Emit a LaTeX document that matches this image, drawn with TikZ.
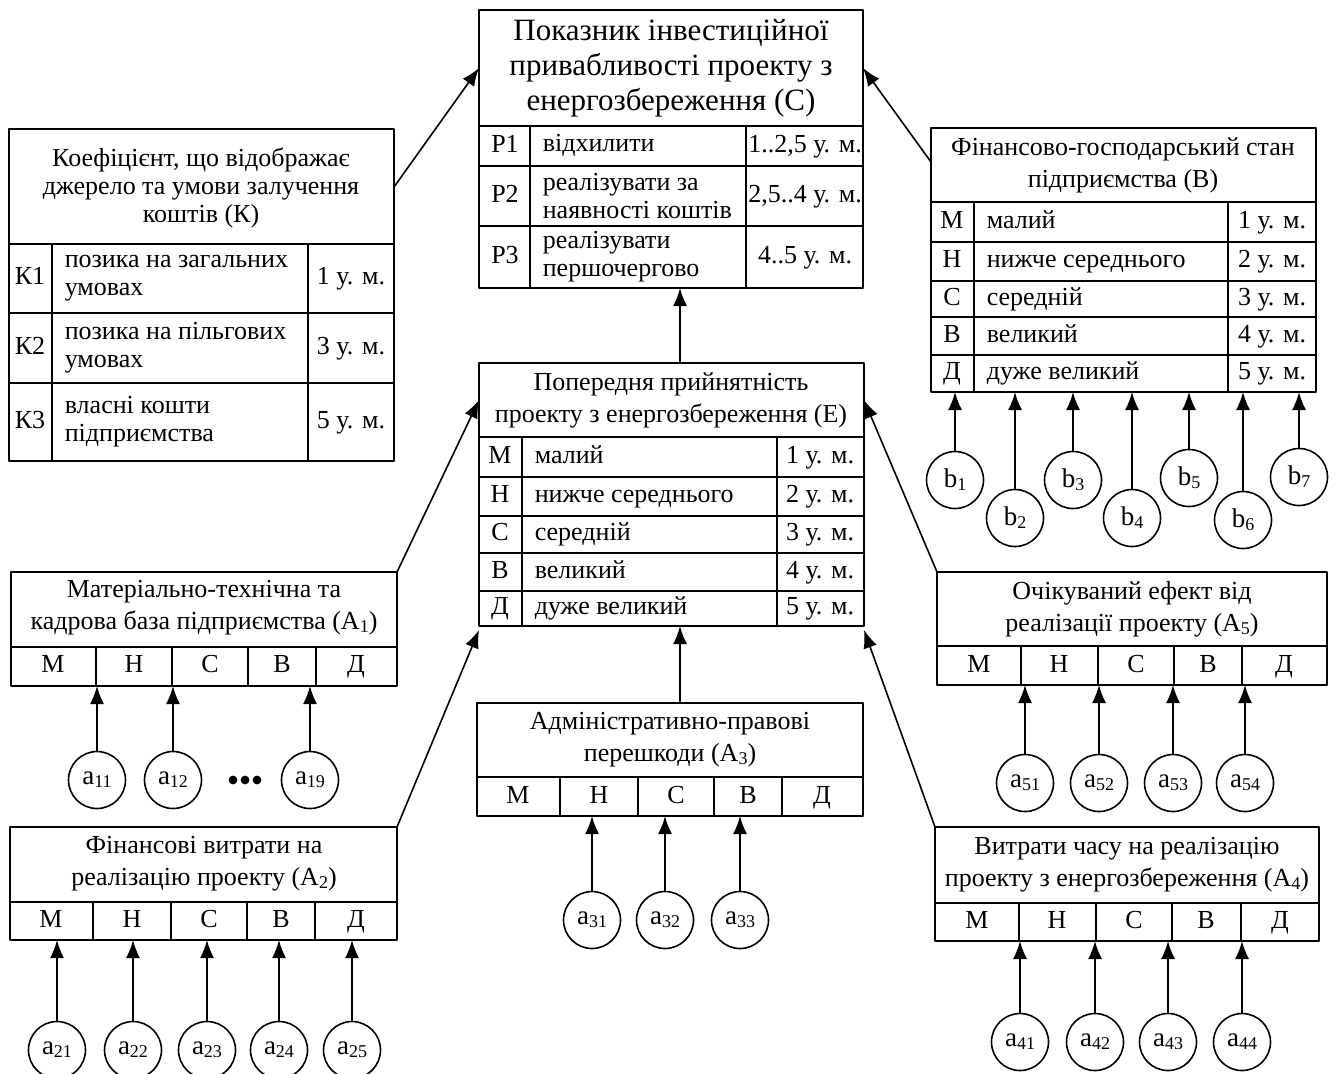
\documentclass[tikz,border=0pt]{standalone}
\usepackage{fontspec}
\setmainfont{Liberation Serif}
\usetikzlibrary{arrows.meta}
\newcommand\idx[1]{\raisebox{-0.25ex}{\fontsize{9}{9}\selectfont #1}}
\tikzset{
  big/.style={inner sep=0pt, align=center, font=\fontsize{15.5}{17.5}\selectfont},
  ttl/.style={inner sep=0pt, align=center, font=\fontsize{13}{16}\selectfont},
  mcell/.style={inner sep=0pt, align=center, font=\fontsize{13}{14}\selectfont},
  cell/.style={mcell, text height=9pt, text depth=3pt},
  lcell/.style={mcell, anchor=west, align=left},
  circ/.style={draw, circle, minimum size=28.5pt, inner sep=0pt, font=\fontsize{13.5}{14}\selectfont},
}
\begin{document}
\begin{tikzpicture}[x=0.5pt, y=-0.5pt, >={Latex[length=9pt,width=7pt]}, line width=0.8pt, line join=round]
\useasboundingbox (0,0) rectangle (1336,1073);
% C
\draw (479,10) rectangle (863,288) (479,126)--(863,126) (530,126)--(530,288) (746,126)--(746,288)
  (479,166)--(863,166) (479,226)--(863,226);
\node[big] (C) at (671,68) {Показник інвестиційної\\привабливості проекту з\\енергозбереження (С)};
\foreach \p/\t/\v/\y [count=\i] in {Р1/{\strut відхилити}/{1..2,5}/146, Р2/{реалізувати за\\наявності коштів}/{2,5..4}/196, Р3/{реалізувати\\першочергово}/{4..5}/257}{
  \node[cell] (cp\i) at (505,\y) {\p};
  \node[lcell] (ct\i) at (542,\y) {\t};
  \node[cell] (cv\i) at (805,\y) {\v{} у. м.};
}
% K
\draw (9,129) rectangle (394,461) (9,244)--(394,244) (52,244)--(52,461) (308,244)--(308,461)
  (9,313)--(394,313) (9,383)--(394,383);
\node[mcell] (K) at (201,188) {Коефіцієнт, що відображає\\джерело та умови залучення\\коштів (К)};
\foreach \p/\t/\v/\y [count=\i] in {К1/{позика на загальних\\умовах}/1/278, К2/{позика на пільгових\\умовах}/3/348, К3/{власні кошти\\підприємства}/5/422}{
  \node[cell] (kp\i) at (30,\y) {\p};
  \node[lcell] (kt\i) at (64,\y) {\t};
  \node[cell] (kv\i) at (351,\y) {\v{} у. м.};
}
% B
\draw (931,128) rectangle (1316,392) (931,202)--(1316,202) (974,202)--(974,392) (1228,202)--(1228,392);
\foreach \y in {242,281,317,355} \draw (931,\y)--(1316,\y);
\node[ttl] (B) at (1123,165) {Фінансово-господарський стан\\підприємства (В)};
\foreach \p/\t/\v/\y [count=\i] in {М/малий/1/222, Н/нижче середнього/2/261, С/середній/3/299, В/великий/4/336, Д/дуже великий/5/373}{
  \node[cell] (bp\i) at (952,\y) {\p};
  \node[cell, anchor=west] (bt\i) at (986,\y) {\t};
  \node[cell] (bv\i) at (1272,\y) {\v{} у. м.};
}
% E
\draw (479,363) rectangle (864,626) (479,437)--(864,437) (522,437)--(522,626) (777,437)--(777,626);
\foreach \y in {477,516,553,591} \draw (479,\y)--(864,\y);
\node[ttl] (E) at (671,400) {Попередня прийнятність\\проекту з енергозбереження (Е)};
\foreach \p/\t/\v/\y [count=\i] in {М/малий/1/457, Н/нижче середнього/2/496, С/середній/3/534, В/великий/4/572, Д/дуже великий/5/608}{
  \node[cell] (ep\i) at (500,\y) {\p};
  \node[cell, anchor=west] (et\i) at (534,\y) {\t};
  \node[cell] (ev\i) at (820,\y) {\v{} у. м.};
}
% A1
\draw (11,572) rectangle (397,686) (11,647)--(397,647);
\foreach \x in {96,172,248,316} \draw (\x,647)--(\x,686);
\node[ttl] (A1) at (204,608) {Матеріально-технічна та\\кадрова база підприємства (А\idx{1})};
\foreach \l/\x [count=\i] in {М/53,Н/134,С/210,В/282,Д/356} \node[cell] (a1l\i) at (\x,666) {\l};
% A2
\draw (10,827) rectangle (397,940) (10,902)--(397,902);
\foreach \x in {93,171,247,315} \draw (\x,902)--(\x,940);
\node[ttl] (A2) at (204,864) {Фінансові витрати на\\реалізацію проекту (А\idx{2})};
\foreach \l/\x [count=\i] in {М/51,Н/132,С/209,В/281,Д/356} \node[cell] (a2l\i) at (\x,921) {\l};
% A3
\draw (477,703) rectangle (863,816) (477,777)--(863,777);
\foreach \x in {560,638,714,782} \draw (\x,777)--(\x,816);
\node[ttl] (A3) at (670,740) {Адміністративно-правові\\перешкоди (А\idx{3})};
\foreach \l/\x [count=\i] in {М/518,Н/599,С/676,В/748,Д/822} \node[cell] (a3l\i) at (\x,797) {\l};
% A4
\draw (935,827) rectangle (1319,941) (935,903)--(1319,903);
\foreach \x in {1019,1096,1172,1241} \draw (\x,903)--(\x,941);
\node[ttl] (A4) at (1127,865) {Витрати часу на реалізацію\\проекту з енергозбереження (А\idx{4})};
\foreach \l/\x [count=\i] in {М/977,Н/1057,С/1134,В/1206,Д/1280} \node[cell] (a4l\i) at (\x,922) {\l};
% A5
\draw (937,572) rectangle (1327,685) (937,646)--(1327,646);
\foreach \x in {1021,1098,1174,1242} \draw (\x,646)--(\x,685);
\node[ttl] (A5) at (1132,609) {Очікуваний ефект від\\реалізації проекту (А\idx{5})};
\foreach \l/\x [count=\i] in {М/979,Н/1059,С/1136,В/1208,Д/1284} \node[cell] (a5l\i) at (\x,666) {\l};
% box points
\coordinate (Cs) at (680,288);
\coordinate (Cl) at (479,68);
\coordinate (Cr) at (863,68);
\coordinate (Kr) at (394,187);
\coordinate (Bl) at (931,162);
\coordinate (En) at (680,363);
\coordinate (Es) at (680,626);
\coordinate (El) at (479,400);
\coordinate (Er) at (864,400);
\coordinate (Elb) at (479,630);
\coordinate (Erb) at (864,630);
\coordinate (A1ne) at (397,572);
\coordinate (A2ne) at (397,827);
\coordinate (A3n) at (680,703);
\coordinate (A4nw) at (935,827);
\coordinate (A5nw) at (937,572);
\coordinate (Bs) at (931,392);
\coordinate (A1s) at (11,686);
\coordinate (A2s) at (10,940);
\coordinate (A3s) at (477,816);
\coordinate (A4s) at (935,941);
\coordinate (A5s) at (937,685);
% factors
\foreach \n/\x/\y in {1/955/480,2/1015/518,3/1073/480,4/1132/518,5/1189/478,6/1243/520,7/1299/477}{
  \node[circ] (b\n) at (\x,\y) {b\idx{\n}};
  \draw[->] (b\n) -- (b\n|-Bs);
}
\foreach \n/\x in {11/97,12/173,19/310}{
  \node[circ] (a\n) at (\x,780) {a\idx{\n}};
  \draw[->] (a\n) -- (a\n|-A1s);
}
\foreach \x in {233,245,257} \fill (\x,780) circle (2.2pt);
\foreach \n/\x in {21/57,22/133,23/207,24/279,25/352}{
  \node[circ] (a\n) at (\x,1050) {a\idx{\n}};
  \draw[->] (a\n) -- (a\n|-A2s);
}
\foreach \n/\x in {31/592,32/665,33/740}{
  \node[circ] (a\n) at (\x,920) {a\idx{\n}};
  \draw[->] (a\n) -- (a\n|-A3s);
}
\foreach \n/\x in {41/1020,42/1095,43/1168,44/1242}{
  \node[circ] (a\n) at (\x,1042) {a\idx{\n}};
  \draw[->] (a\n) -- (a\n|-A4s);
}
\foreach \n/\x in {51/1025,52/1099,53/1173,54/1245}{
  \node[circ] (a\n) at (\x,783) {a\idx{\n}};
  \draw[->] (a\n) -- (a\n|-A5s);
}
% links
\draw[->] (En) -- (Cs);
\draw[->] (A3n) -- (Es);
\draw[->] (Kr) -- (Cl);
\draw[->] (Bl) -- (Cr);
\draw[->] (A1ne) -- (El);
\draw[->] (A2ne) -- (Elb);
\draw[->] (A5nw) -- (Er);
\draw[->] (A4nw) -- (Erb);
\end{tikzpicture}
\end{document}
